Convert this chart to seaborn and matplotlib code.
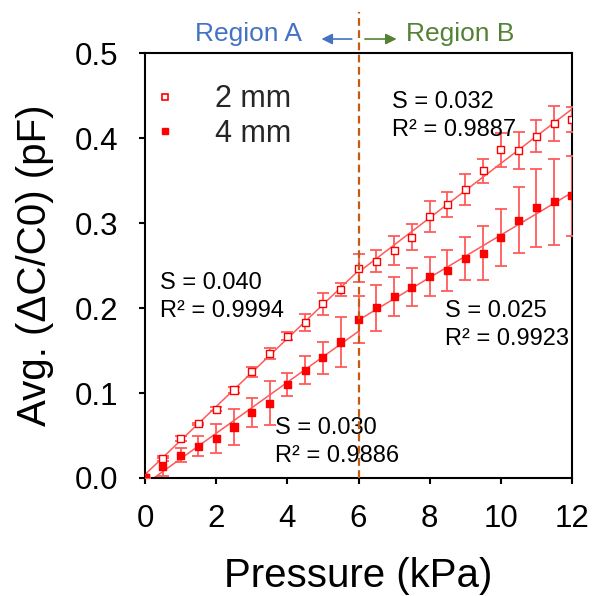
import numpy as np
import pandas as pd
import matplotlib
matplotlib.use("Agg")
import matplotlib.pyplot as plt
import matplotlib.transforms as mtransforms
import seaborn as sns

# Applied pressure steps (kPa)
pressure = [0.0, 0.5, 1.0, 1.5, 2.0, 2.5, 3.0, 3.5, 4.0, 4.5, 5.0, 5.5, 6.0,
            6.5, 7.0, 7.5, 8.0, 8.5, 9.0, 9.5, 10.0, 10.5, 11.0, 11.5, 12.0]

# Mean relative capacitance change and standard deviation, 2 mm sensor
mean_2mm = [0.0, 0.023, 0.046, 0.064, 0.081, 0.1035, 0.125, 0.146, 0.167, 0.183,
            0.205, 0.222, 0.247, 0.255, 0.268, 0.2835, 0.3075, 0.3215, 0.3395,
            0.3615, 0.386, 0.385, 0.402, 0.417, 0.422]
err_2mm = [0.0, 0.0025, 0.003, 0.0012, 0.002, 0.003, 0.006, 0.0065, 0.005, 0.0105,
           0.013, 0.008, 0.016, 0.013, 0.017, 0.015, 0.018, 0.015, 0.018, 0.014,
           0.0195, 0.022, 0.019, 0.021, 0.015]

# Mean relative capacitance change and standard deviation, 4 mm sensor
mean_4mm = [0.0, 0.013, 0.027, 0.0375, 0.046, 0.060, 0.077, 0.088, 0.110, 0.127,
            0.1415, 0.160, 0.1865, 0.2005, 0.2135, 0.2245, 0.237, 0.2445, 0.2585,
            0.2645, 0.283, 0.3035, 0.318, 0.325, 0.332]
err_4mm = [0.0, 0.011, 0.008, 0.012, 0.017, 0.021, 0.017, 0.026, 0.014, 0.016,
           0.019, 0.029, 0.028, 0.027, 0.023, 0.0225, 0.0225, 0.024, 0.0255,
           0.032, 0.033, 0.039, 0.046, 0.0505, 0.047]

# Linear-fit sensitivities (slopes) and R² for region A (0-6 kPa) and B (6-12 kPa)
boundary = 6.0
slopes_2mm = [0.040, 0.032]
r2_2mm = ["0.9994", "0.9887"]
slopes_4mm = [0.030, 0.025]
r2_4mm = ["0.9886", "0.9923"]

sns.set_theme(style="ticks")
plt.rcParams["font.family"] = ["Liberation Sans", "DejaVu Sans"]

RED = "#FF0000"
RED_LIGHT = "#FF5A5A"
BLUE = "#4472C4"
GREEN = "#548235"
fig = plt.figure(figsize=(5.94, 5.96), dpi=100)
ax = fig.add_axes([0.2441, 0.198, 0.7189, 0.713])

df = pd.DataFrame({"pressure": pressure * 2,
                   "value": mean_2mm + mean_4mm,
                   "err": err_2mm + err_4mm,
                   "size": ["2 mm"] * len(pressure) + ["4 mm"] * len(pressure)})

x = np.asarray(pressure)


def fit_segment(y, slope, lo, hi):
    y = np.asarray(y)
    m = (x >= lo) & (x <= hi)
    b = np.mean(y[m] - slope * x[m])
    xs = np.array([lo, hi])
    return xs, slope * xs + b


# Fit lines per region
for y, slopes in [(mean_2mm, slopes_2mm), (mean_4mm, slopes_4mm)]:
    for (lo, hi), s in zip([(0.0, boundary), (boundary, 12.0)], slopes):
        xs, ys = fit_segment(y, s, lo, hi)
        sns.lineplot(x=xs, y=ys, ax=ax, color=RED_LIGHT, lw=1.1, zorder=2,
                     legend=False)

# Error bars
for y, e in [(mean_2mm, err_2mm), (mean_4mm, err_4mm)]:
    ax.errorbar(pressure, y, yerr=e, fmt="none", ecolor=RED_LIGHT,
                elinewidth=1.3, capsize=4.2, capthick=1.3, zorder=3)

# Markers
sns.scatterplot(data=df, x="pressure", y="value", style="size", hue="size",
                markers={"2 mm": "s", "4 mm": "s"},
                palette={"2 mm": RED, "4 mm": RED}, s=26, ax=ax, zorder=4,
                legend=False)
pts = ax.collections[-1]
n = len(pressure)
fc = np.array([[1, 1, 1, 1]] * n + [[1, 0, 0, 1]] * n)
pts.set_facecolors(fc)
pts.set_edgecolors(RED)
pts.set_linewidths(1.0)

# Legend
h2 = plt.Line2D([], [], ls="none", marker="s", ms=4.6, mfc="white", mec=RED, mew=1.2)
h4 = plt.Line2D([], [], ls="none", marker="s", ms=4.6, mfc=RED, mec=RED)
ax.legend([h2, h4], ["2 mm", "4 mm"], loc="upper left",
          bbox_to_anchor=(0.012, 0.926), frameon=False, fontsize=22,
          handlelength=1.0, handletextpad=1.13, labelspacing=0.15,
          borderpad=0.0, borderaxespad=0.0)

# Fit annotations
ann_kw = dict(fontsize=17, color="black", va="center", ha="left",
              linespacing=1.33)
ax.text(0.42, 0.213, f"S = {slopes_2mm[0]:.3f}\nR² = {r2_2mm[0]}", **ann_kw)
ax.text(3.65, 0.0424, f"S = {slopes_4mm[0]:.3f}\nR² = {r2_4mm[0]}", **ann_kw)
ax.text(6.93, 0.426, f"S = {slopes_2mm[1]:.3f}\nR² = {r2_2mm[1]}", **ann_kw)
ax.text(8.43, 0.180, f"S = {slopes_4mm[1]:.3f}\nR² = {r2_4mm[1]}", **ann_kw)

# Region divider and labels above the axes
trans = mtransforms.blended_transform_factory(ax.transData, ax.transAxes)
ax.plot([boundary, boundary], [0, 1.096], transform=trans, color="#C55A11",
        lw=1.6, dashes=(3.5, 2.0), clip_on=False, zorder=5)
ax.text(2.92, 1.045, "Region A", transform=trans, color=BLUE,
        fontsize=19, ha="center", va="center")
ax.text(8.85, 1.045, "Region B", transform=trans, color=GREEN,
        fontsize=19, ha="center", va="center")
arrow_kw = dict(arrowstyle="-|>", lw=1.2, mutation_scale=16, shrinkA=0, shrinkB=0)
ax.annotate("", xy=(4.96, 1.033), xytext=(5.81, 1.033), xycoords=trans,
            textcoords=trans, annotation_clip=False,
            arrowprops=dict(color=BLUE, **arrow_kw))
ax.annotate("", xy=(7.07, 1.033), xytext=(6.18, 1.033), xycoords=trans,
            textcoords=trans, annotation_clip=False,
            arrowprops=dict(color=GREEN, **arrow_kw))

# Axes styling
ax.set_xlim(0, 12)
ax.set_ylim(0, 0.5)
ax.set_xticks([0, 2, 4, 6, 8, 10, 12])
ax.set_yticks([0.0, 0.1, 0.2, 0.3, 0.4, 0.5])
ax.yaxis.set_major_formatter(matplotlib.ticker.FormatStrFormatter("%.1f"))
ax.tick_params(axis="both", direction="out", length=4.5, width=1.5,
               colors="black", labelsize=22.5)
ax.tick_params(axis="x", pad=14)
ax.tick_params(axis="y", pad=15)
for sp in ax.spines.values():
    sp.set_visible(True)
    sp.set_color("black")
    sp.set_linewidth(1.5)
ax.set_xlabel("Pressure (kPa)", fontsize=29, color="black")
ax.set_ylabel("Avg. (ΔC/C0) (pF)", fontsize=29, color="black")
ax.xaxis.set_label_coords(0.5, -0.187)
ax.yaxis.set_label_coords(-0.214, 0.5)

fig.savefig("out.png", dpi=100, facecolor="white")
